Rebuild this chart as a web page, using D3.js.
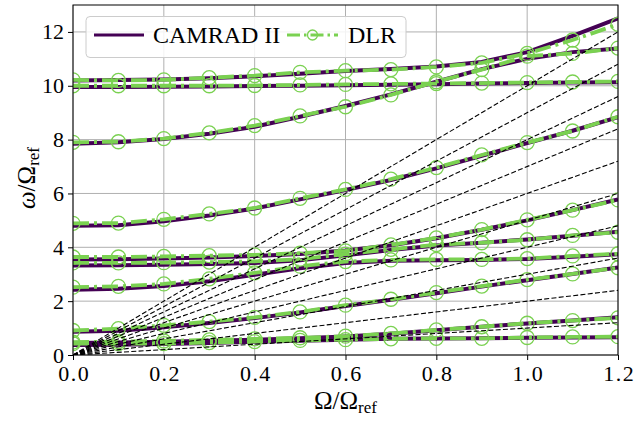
<!DOCTYPE html>
<html><head><meta charset="utf-8">
<script src="https://d3js.org/d3.v7.min.js"></script>
<style>body{margin:0;background:#fff}svg{display:block}text{font-family:"Liberation Serif","Times New Roman",serif}</style>
</head><body><svg id="chart" width="635" height="422"></svg>
<script>
// ---- data ----
const omega = [0,0.1,0.2,0.3,0.4,0.5,0.6,0.7,0.8,0.9,1.0,1.1,1.2];
const xTicks = [0,0.2,0.4,0.6,0.8,1.0,1.2];
const yTicks = [0,2,4,6,8,10,12];
const perRev = [1,2,3,4,5,6,7,8,9,10];
// CAMRAD II modes
const c1 = [0.37,0.38,0.41,0.45,0.49,0.53,0.57,0.60,0.61,0.62,0.64,0.65,0.66];
const c2 = [0.45,0.46,0.49,0.53,0.57,0.62,0.69,0.79,0.92,1.05,1.17,1.28,1.40];
const c3 = [0.86,0.90,1.03,1.19,1.37,1.58,1.82,2.05,2.29,2.54,2.78,3.01,3.25];
const c4 = [2.42,2.46,2.56,2.74,2.98,3.22,3.42,3.50,3.52,3.53,3.57,3.65,3.74];
const c5 = [3.32,3.33,3.35,3.38,3.42,3.52,3.70,3.90,4.07,4.17,4.29,4.43,4.58];
const c6 = [3.55,3.56,3.58,3.62,3.68,3.75,3.88,4.08,4.34,4.65,5.00,5.38,5.78];
const c7 = [4.80,4.82,4.97,5.18,5.44,5.78,6.13,6.50,6.93,7.40,7.87,8.33,8.83];
const c8 = [7.85,7.90,8.02,8.22,8.48,8.85,9.25,9.68,10.15,10.62,11.00,11.25,11.38];
const c9 = [9.95,9.95,9.96,9.97,9.99,10.00,10.02,10.04,10.06,10.08,10.10,10.12,10.13];
const c10 = [10.20,10.21,10.23,10.28,10.35,10.45,10.55,10.62,10.72,10.88,11.25,11.85,12.50];
// DLR modes
const dlr1 = [0.42,0.42,0.42,0.46,0.50,0.54,0.57,0.60,0.62,0.62,0.65,0.67,0.68];
const dlr2 = [0.48,0.50,0.52,0.56,0.60,0.64,0.70,0.80,0.93,1.05,1.18,1.28,1.38];
const dlr3 = [0.91,0.98,1.10,1.24,1.40,1.60,1.85,2.07,2.32,2.56,2.80,3.01,3.24];
const dlr4 = [2.52,2.55,2.64,2.83,3.05,3.30,3.47,3.53,3.55,3.55,3.58,3.68,3.76];
const dlr5 = [3.42,3.42,3.43,3.45,3.48,3.56,3.75,3.92,4.10,4.17,4.28,4.44,4.56];
const dlr6 = [3.64,3.64,3.66,3.69,3.72,3.78,3.87,4.09,4.35,4.66,5.02,5.38,5.76];
const dlr7 = [4.89,4.90,5.04,5.24,5.46,5.82,6.15,6.53,6.96,7.43,7.89,8.32,8.85];
const dlr8 = [7.90,7.92,8.04,8.25,8.52,8.88,9.22,9.66,10.15,10.60,11.10,11.20,11.40];
const dlr9 = [10.00,10.00,10.00,10.00,10.01,10.03,10.05,10.07,10.08,10.10,10.12,10.14,10.16];
const dlr10 = [10.22,10.20,10.22,10.30,10.38,10.50,10.56,10.60,10.70,10.85,11.20,11.70,12.28];
const camradModes = [c1,c2,c3,c4,c5,c6,c7,c8,c9,c10];
const dlrModes = [dlr1,dlr2,dlr3,dlr4,dlr5,dlr6,dlr7,dlr8,dlr9,dlr10];

// ---- chart ----
const PURPLE = "#440154", GREEN = "#7ad151";
const svg = d3.select("#chart");
const m = {l:73, r:17, t:5, b:67};
const W = 635 - m.l - m.r, H = 422 - m.t - m.b;
const xS = d3.scaleLinear().domain([0,1.2]).range([0,W]);
const yS = d3.scaleLinear().domain([0,13]).range([H,0]);
const g = svg.append("g").attr("transform",`translate(${m.l},${m.t})`);

svg.append("defs").append("clipPath").attr("id","clip")
  .append("rect").attr("width",W).attr("height",H);

// grid
g.append("g").selectAll("line").data(xTicks).join("line")
  .attr("x1",d=>xS(d)).attr("x2",d=>xS(d)).attr("y1",0).attr("y2",H)
  .attr("stroke","#b0b0b0").attr("stroke-width",1);
g.append("g").selectAll("line").data(yTicks).join("line")
  .attr("y1",d=>yS(d)).attr("y2",d=>yS(d)).attr("x1",0).attr("x2",W)
  .attr("stroke","#b0b0b0").attr("stroke-width",1);

const plot = g.append("g").attr("clip-path","url(#clip)");
const lineGen = d3.line().x((d,i)=>xS(omega[i])).y(d=>yS(d));

camradModes.forEach(s=>{
  plot.append("path").datum(s).attr("d",lineGen).attr("fill","none")
    .attr("stroke",PURPLE).attr("stroke-width",4);
});
dlrModes.forEach(s=>{
  plot.append("path").datum(s).attr("d",lineGen).attr("fill","none")
    .attr("stroke",GREEN).attr("stroke-width",3.8)
    .attr("stroke-dasharray","16,5,3,5");
  plot.append("g").selectAll("circle").data(s).join("circle")
    .attr("cx",(d,i)=>xS(omega[i])).attr("cy",d=>yS(d)).attr("r",7)
    .attr("fill","none").attr("stroke",GREEN).attr("stroke-width",1.3);
});
// per-rev lines
perRev.forEach(n=>{
  plot.append("line").attr("x1",xS(0)).attr("y1",yS(0)).attr("x2",xS(1.2)).attr("y2",yS(n*1.2))
    .attr("stroke","#000").attr("stroke-width",1.1).attr("stroke-dasharray","5,2.3");
});

// axes
const xa = g.append("g").attr("transform",`translate(0,${H})`)
  .call(d3.axisBottom(xS).tickValues(xTicks).tickFormat(d3.format(".1f")).tickSize(5).tickPadding(4));
const ya = g.append("g")
  .call(d3.axisLeft(yS).tickValues(yTicks).tickFormat(d3.format("d")).tickSize(5).tickPadding(4));
[xa,ya].forEach(a=>{
  a.select(".domain").remove();
  a.selectAll("text").attr("font-size",22).attr("fill","#000")
    .style("font-family",'"Liberation Serif",serif');
  a.selectAll("line").attr("stroke","#000").attr("stroke-width",1);
});
xa.selectAll("text").attr("dy","0.78em").attr("dx","0.7").style("letter-spacing","1.4px");
g.append("rect").attr("width",W).attr("height",H).attr("fill","none")
  .attr("stroke","#000").attr("stroke-width",1);

// axis labels
const xl = svg.append("text").attr("x",m.l+W/2).attr("y",409).attr("text-anchor","middle")
  .attr("font-size",25);
xl.append("tspan").text("Ω/Ω");
xl.append("tspan").text("ref").attr("font-size",17).attr("dy",4);

const yl = svg.append("text").attr("transform","translate(35,178) rotate(-90)")
  .attr("text-anchor","middle").attr("font-size",25);
yl.append("tspan").text("ω").attr("font-style","italic");
yl.append("tspan").text("/Ω");
yl.append("tspan").text("ref").attr("font-size",17).attr("dy",4);

// legend
const lg = svg.append("g");
lg.append("rect").attr("x",86).attr("y",16.5).attr("width",320).attr("height",41)
  .attr("rx",4).attr("fill","#fff").attr("fill-opacity",0.85)
  .attr("stroke","#cccccc").attr("stroke-width",1);
lg.append("line").attr("x1",94).attr("x2",144).attr("y1",35).attr("y2",35)
  .attr("stroke",PURPLE).attr("stroke-width",3);
lg.append("text").attr("x",153).attr("y",43).attr("font-size",24).text("CAMRAD II");
lg.append("line").attr("x1",287).attr("x2",338).attr("y1",35).attr("y2",35)
  .attr("stroke",GREEN).attr("stroke-width",3).attr("stroke-dasharray","13,4,2.5,4");
lg.append("circle").attr("cx",312.5).attr("cy",35).attr("r",5).attr("fill","none")
  .attr("stroke",GREEN).attr("stroke-width",1.3);
lg.append("text").attr("x",348).attr("y",43).attr("font-size",24).text("DLR");
</script></body></html>
